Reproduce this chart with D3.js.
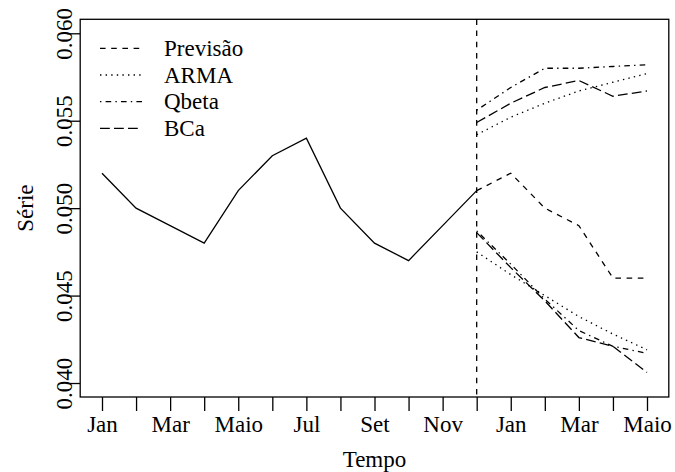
<!DOCTYPE html>
<html>
<head>
<meta charset="utf-8">
<script src="https://cdn.jsdelivr.net/npm/d3@7"></script>
<style>
  body { margin: 0; background: #fff; }
  text { font-family: "Liberation Serif", "Times New Roman", serif; fill: #000; }
</style>
</head>
<body>
<svg></svg>
<script>
// meses do eixo (Jan ... Dez, Jan ... Maio)
let meses = ["Jan","Fev","Mar","Abr","Maio","Jun","Jul","Ago","Set","Out","Nov","Dez","Jan","Fev","Mar","Abr","Maio"]
let yTicks = [0.040, 0.045, 0.050, 0.055, 0.060]

// serie observada (Jan..Dez)
let serie = [0.052, 0.050, 0.049, 0.048, 0.051, 0.053, 0.054, 0.050, 0.048, 0.047, 0.049, 0.051]

// previsao e intervalos (Dez..Maio)
let previsao = [0.051, 0.052, 0.050, 0.049, 0.046, 0.046]
let armaInf  = [0.0475, 0.0462, 0.0450, 0.0438, 0.0428, 0.0419]
let armaSup  = [0.0542, 0.0552, 0.0560, 0.0567, 0.0572, 0.0577]
let qbetaInf = [0.0487, 0.0468, 0.0448, 0.0430, 0.0421, 0.0417]
let qbetaSup = [0.0556, 0.0569, 0.0580, 0.0580, 0.0581, 0.0582]
let bcaInf   = [0.0486, 0.0466, 0.0447, 0.0426, 0.0421, 0.0406]
let bcaSup   = [0.0549, 0.0560, 0.0569, 0.0573, 0.0564, 0.0567]

let legenda = ["Previsão", "ARMA", "Qbeta", "BCa"]

let width = 675
let height = 472
let box = { left: 80.2, right: 668.8, top: 19.3, bottom: 397 }
let inicioPrev = 11
let fs = 23

// R lty patterns, scaled
let dashes = {
  prev: "5.6,5.6",
  arma: "1.4,4.2",
  qbeta: "1.4,4.2,5.6,4.2",
  bca: "9.8,4.2"
}

let svg = d3.select('svg')
            .attr('width', width)
            .attr('height', height)

let xScale = d3.scaleLinear()
               .domain([-0.64, 16.64])
               .range([box.left, box.right])

let yScale = d3.scaleLinear()
               .domain([0.0392, 0.0608])
               .range([box.bottom, box.top])

let drawLine = (values, offset, dash) => {
  let line = d3.line()
               .x((d, i) => xScale(offset + i))
               .y(d => yScale(d))
  svg.append('path')
     .datum(values)
     .attr('d', line)
     .attr('fill', 'none')
     .attr('stroke', '#000')
     .attr('stroke-width', 1.3)
     .attr('stroke-dasharray', dash)
}

// serie observada
drawLine(serie, 0, null)

// linha vertical no inicio da previsao
svg.append('line')
   .attr('x1', xScale(inicioPrev))
   .attr('x2', xScale(inicioPrev))
   .attr('y1', box.top)
   .attr('y2', box.bottom)
   .attr('stroke', '#000')
   .attr('stroke-width', 1.3)
   .attr('stroke-dasharray', dashes.prev)

drawLine(previsao, inicioPrev, dashes.prev)
drawLine(armaInf, inicioPrev, dashes.arma)
drawLine(armaSup, inicioPrev, dashes.arma)
drawLine(qbetaInf, inicioPrev, dashes.qbeta)
drawLine(qbetaSup, inicioPrev, dashes.qbeta)
drawLine(bcaInf, inicioPrev, dashes.bca)
drawLine(bcaSup, inicioPrev, dashes.bca)

// eixos
let xAxis = d3.axisBottom(xScale)
              .tickValues(d3.range(meses.length))
              .tickSize(14)
              .tickPadding(4.5)
              .tickFormat(i => i % 2 === 0 ? meses[i] : "")

let gx = svg.append('g')
            .attr('transform', `translate(0, ${box.bottom})`)
            .call(xAxis)
gx.select('.domain').remove()
gx.selectAll('line').attr('stroke-width', 1.3)
gx.selectAll('text').attr('font-size', fs).attr('font-family', '"Liberation Serif", serif')

let yAxis = d3.axisLeft(yScale)
              .tickValues(yTicks)
              .tickSize(13.5)
              .tickFormat(d3.format('.3f'))

let gy = svg.append('g')
            .attr('transform', `translate(${box.left}, 0)`)
            .call(yAxis)
gy.select('.domain').remove()
gy.selectAll('line').attr('stroke-width', 1.3)
gy.selectAll('text')
  .attr('x', null)
  .attr('dy', null)
  .attr('text-anchor', 'middle')
  .attr('transform', 'translate(-8.7, 0) rotate(-90)')
  .attr('font-size', fs)
  .attr('font-family', '"Liberation Serif", serif')

// caixa
svg.append('rect')
   .attr('x', box.left)
   .attr('y', box.top)
   .attr('width', box.right - box.left)
   .attr('height', box.bottom - box.top)
   .attr('fill', 'none')
   .attr('stroke', '#000')
   .attr('stroke-width', 1.3)

// titulos
svg.append('text')
   .attr('x', (box.left + box.right) / 2)
   .attr('y', 466.7)
   .attr('text-anchor', 'middle')
   .attr('font-size', fs)
   .text('Tempo')

svg.append('text')
   .attr('transform', `translate(33, ${(box.top + box.bottom) / 2}) rotate(-90)`)
   .attr('text-anchor', 'middle')
   .attr('font-size', fs)
   .text('Série')

// legenda
let legDash = [dashes.prev, dashes.arma, dashes.qbeta, dashes.bca]
legenda.forEach((nome, i) => {
  let ly = 48.3 + i * 26.7
  svg.append('line')
     .attr('x1', 100).attr('x2', 142)
     .attr('y1', ly).attr('y2', ly)
     .attr('stroke', '#000')
     .attr('stroke-width', 1.3)
     .attr('stroke-dasharray', legDash[i])
  svg.append('text')
     .attr('x', 164)
     .attr('y', ly + 7.5)
     .attr('font-size', fs)
     .text(nome)
})
</script>
</body>
</html>
